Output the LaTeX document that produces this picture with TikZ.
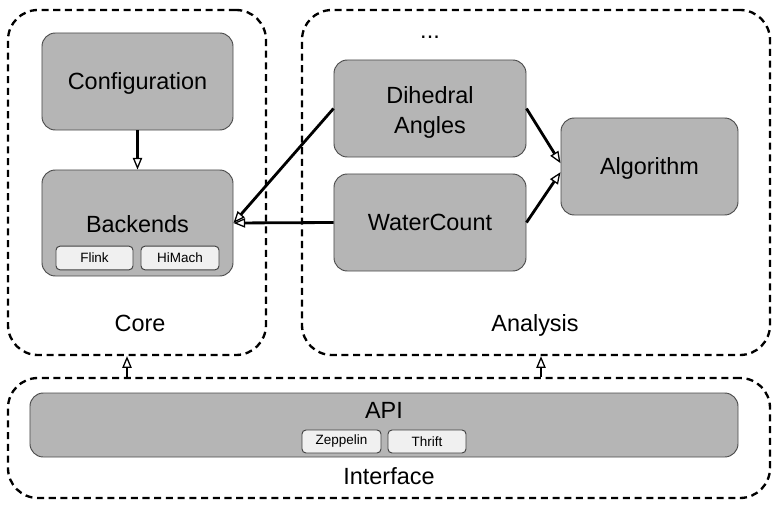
\documentclass[tikz,border=0pt]{standalone}
\usepackage{fontspec}
\setmainfont{Liberation Sans}
\usetikzlibrary{arrows.meta}

\begin{document}
\begin{tikzpicture}[x=0.03cm, y=-0.03cm,
                    container/.style={draw=black, line width=2pt, dash pattern=on 6pt off 4pt, rounded corners=0.9cm, inner sep=0pt},
                    module/.style={draw=black!70, line width=0.8pt, fill=black!29, rounded corners=0.4cm, inner sep=0pt, align=center, text height=14.4pt, text depth=0pt, font=\fontsize{20}{25}\selectfont},
                    plugin/.style={draw=black!75, line width=0.8pt, fill=black!6, rounded corners=0.12cm, inner sep=0pt, minimum height=0.71cm, font=\fontsize{11.5}{13}\selectfont},
                    title/.style={font=\fontsize{20}{24}\selectfont, inner sep=0pt, text height=14.4pt, text depth=0pt},
                    link/.style={line width=2.4pt, -{Triangle[open, length=10pt, width=8pt, line width=1.1pt]}}]

    \useasboundingbox (0,0) rectangle (778,508);

    % Containers
    \node[container, minimum width=7.74cm, minimum height=10.35cm] (core) at (137,182.5) {};
    \node[container, minimum width=14.04cm, minimum height=10.35cm] (analysis) at (536,182.5) {};
    \node[container, minimum width=22.86cm, minimum height=3.6cm] (iface) at (389,438) {};
    \node[title] (corelabel) at (140,323) {Core};
    \node[title] (analysislabel) at (535,323) {Analysis};
    \node[title] (ifacelabel) at (389,476.5) {Interface};

    % Core modules
    \node[module, minimum width=5.73cm, minimum height=2.91cm] (config) at (137.5,81.5) {Configuration};
    \node[module, minimum width=5.73cm, minimum height=3.18cm] (backends) at (137.5,223) {\raisebox{-1pt}{Backends}};
    \node[plugin, minimum width=2.31cm] (flink) at (94.5,258) {Flink};
    \node[plugin, minimum width=2.34cm] (himach) at (180,258) {HiMach};

    % Analysis modules
    \node[title] (more) at (430,30.5) {...};
    \node[module, minimum width=5.76cm, minimum height=2.91cm, text height=42pt] (dihedral) at (430,108.5) {Dihedral\\Angles};
    \node[module, minimum width=5.76cm, minimum height=2.91cm] (water) at (430,222.5) {WaterCount};
    \node[module, minimum width=5.31cm, minimum height=2.91cm] (algo) at (649.5,166.5) {Algorithm};

    % Interface
    \node[module, minimum width=21.24cm, minimum height=1.92cm] (api) at (384,425) {};
    \node[title] (apilabel) at (384,410.5) {API};
    \node[plugin, minimum width=2.37cm, minimum height=0.69cm] (zeppelin) at (341.5,441.5) {Zeppelin};
    \node[plugin, minimum width=2.34cm, minimum height=0.69cm] (thrift) at (427,441.5) {Thrift};

    % Connectors
    \draw[link] (config) -- (backends);
    \draw[link] (dihedral.west) -- (backends.east);
    \draw[link] (water.west) -- (backends.east);
    \draw[link] (dihedral.east) -- ([yshift=0.1cm]algo.west);
    \draw[link] (water.east) -- ([yshift=-0.17cm]algo.west);
    \draw[link] ([xshift=-0.3cm]core.south |- iface.north) -- ([xshift=-0.3cm]core.south);
    \draw[link] ([xshift=0.15cm]analysis.south |- iface.north) -- ([xshift=0.15cm]analysis.south);
\end{tikzpicture}
\end{document}
